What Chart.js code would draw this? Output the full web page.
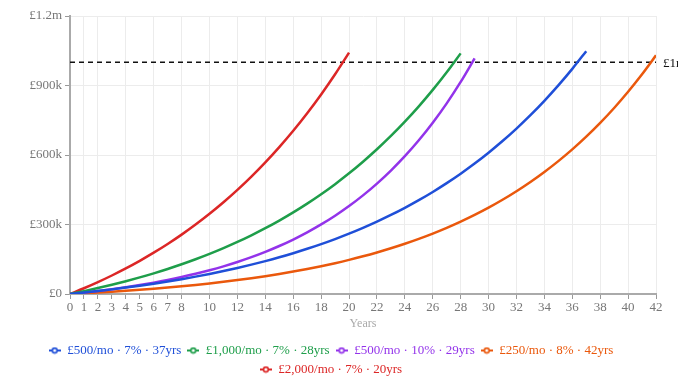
<!DOCTYPE html>
<html>
<head>
<meta charset="utf-8">
<script src="https://cdn.jsdelivr.net/npm/chart.js@4.4.1/dist/chart.umd.min.js"></script>
<style>
  html, body { margin: 0; padding: 0; background: #fff; }
  #wrap { width: 678px; height: 388px; overflow: hidden; }
</style>
</head>
<body>
<div id="wrap"><canvas id="c" width="678" height="388"></canvas></div>
<script>
const years = [0,1,2,3,4,5,6,7,8,9,10,11,12,13,14,15,16,17,18,19,20,21,22,23,24,25,26,27,28,29,30,31,32,33,34,35,36,37,38,39,40,41,42];
const xTickValues = [0,1,2,3,4,5,6,7,8,10,12,14,16,18,20,22,24,26,28,30,32,34,36,38,40,42];
const yTickLabels = { 0: '£0', 300000: '£300k', 600000: '£600k', 900000: '£900k', 1200000: '£1.2m' };
const targetValue = 1000000;
const targetLabel = '£1m';

const seriesLabels = ['£500/mo · 7% · 37yrs', '£1,000/mo · 7% · 28yrs', '£500/mo · 10% · 29yrs', '£250/mo · 8% · 42yrs', '£2,000/mo · 7% · 20yrs'];
const seriesColors = ['#1f4fd8', '#1e9e4a', '#9333ea', '#ea580c', '#dc2626'];

const blueVals = [0,6196,12841,19965,27604,35797,44581,54000,64101,74931,86542,98995,112347,126665,142018,158481,176134,195063,215360,237125,260463,285489,312323,341097,371951,405036,440512,478553,519345,563084,609986,660278,714206,772032,834039,900528,971823,1048273];
const greenVals = [0,12392,25682,39930,55208,71594,89162,108000,128202,149862,173084,197990,224694,253330,284036,316962,352268,390126,430720,474250,520926,570978,624646,682194,743902,810072,881024,957106,1038690];
const purpleVals = [0,6283,13223,20891,29361,38719,49056,60475,73091,87027,102422,119430,138219,158975,181905,207235,235218,266131,300282,338008,379684,425725,476587,532774,594846,663416,739168,822851,915297,1017423];
const orangeVals = [0,3113,6483,10134,14088,18369,23007,28029,33467,39358,45737,52646,60128,68231,77007,86511,96803,107951,120023,133097,147257,162592,179200,197186,216664,237760,260607,285350,312146,341167,372596,406634,443497,483420,526656,573481,624193,679113,738592,803008,872770,948322,1030145];
const redVals = [0,24784,51364,79860,110416,143188,178324,216000,256404,299724,346168,395980,449388,506660,568072,633924,704536,780252,861440,948500,1041852];

const seriesValues = [blueVals, greenVals, purpleVals, orangeVals, redVals];

const FONT = '"Liberation Serif", "DejaVu Serif", serif';

function makeIcon(color) {
  const cv = document.createElement('canvas');
  cv.width = 12; cv.height = 8;
  const g = cv.getContext('2d');
  g.strokeStyle = color;
  g.lineWidth = 2;
  g.beginPath(); g.moveTo(0, 4); g.lineTo(12, 4); g.stroke();
  g.fillStyle = '#fff';
  g.lineWidth = 1.6;
  g.beginPath(); g.arc(6, 4, 2.4, 0, Math.PI * 2); g.fill(); g.stroke();
  return cv;
}
const icons = seriesColors.map(makeIcon);

const datasets = seriesValues.map((vals, i) => ({
  label: seriesLabels[i],
  data: vals.map((v, j) => ({ x: years[j], y: v })),
  borderColor: seriesColors[i],
  backgroundColor: seriesColors[i],
  borderWidth: 2.5,
  pointRadius: 0,
  cubicInterpolationMode: 'monotone',
  fill: false
}));

const targetPlugin = {
  id: 'target',
  beforeDatasetsDraw(chart) {
    const { ctx, chartArea, scales } = chart;
    const y = scales.y.getPixelForValue(targetValue);
    ctx.save();
    ctx.strokeStyle = '#111';
    ctx.lineWidth = 1.5;
    ctx.setLineDash([5, 4]);
    ctx.beginPath();
    ctx.moveTo(chartArea.left, y);
    ctx.lineTo(chartArea.right, y);
    ctx.stroke();
    ctx.restore();
  },
  afterDraw(chart) {
    const { ctx, chartArea, scales } = chart;
    const y = scales.y.getPixelForValue(targetValue);
    ctx.save();
    ctx.fillStyle = '#111';
    ctx.font = '13px ' + FONT;
    ctx.textBaseline = 'middle';
    ctx.textAlign = 'left';
    ctx.fillText(targetLabel, chartArea.right + 7, y + 1);
    ctx.restore();
  }
};

new Chart(document.getElementById('c'), {
  type: 'line',
  data: { datasets },
  plugins: [targetPlugin],
  options: {
    responsive: false,
    animation: false,
    layout: { padding: { left: 6, right: 22, top: 16, bottom: 2 } },
    plugins: {
      tooltip: { enabled: false },
      legend: {
        position: 'bottom',
        labels: {
          usePointStyle: true,
          pointStyleWidth: 12,
          boxHeight: 8,
          padding: 6,
          font: { family: FONT, size: 13 },
          generateLabels(chart) {
            return chart.data.datasets.map((ds, i) => ({
              text: ds.label,
              fontColor: ds.borderColor,
              pointStyle: icons[i],
              fillStyle: 'transparent',
              strokeStyle: 'transparent',
              lineWidth: 0,
              hidden: false,
              datasetIndex: i
            }));
          }
        }
      }
    },
    scales: {
      x: {
        type: 'linear',
        min: 0, max: 42,
        afterBuildTicks(scale) { scale.ticks = xTickValues.map(v => ({ value: v })); },
        ticks: { color: '#777', font: { family: FONT, size: 13 }, autoSkip: false, maxRotation: 0, padding: 1 },
        grid: {
          color(ctx) { const v = ctx.tick && ctx.tick.value; return (v === 3 || v === 5 || v === 7) ? 'rgba(0,0,0,0)' : '#ececec'; },
          borderDash: [3, 3],
          tickBorderDash: [],
          tickColor: '#999',
          tickLength: 5,
          lineWidth: 1
        },
        border: { color: '#aaa', width: 2, dash: [] },
        title: { display: true, text: 'Years', color: '#aaa', font: { family: FONT, size: 12 }, padding: { top: 0, bottom: 7 } }
      },
      y: {
        min: 0, max: 1200000,
        afterFit(scale) { scale.width = 64; },
        ticks: {
          stepSize: 300000,
          color: '#777',
          font: { family: FONT, size: 13 },
          padding: 3,
          callback: (v) => yTickLabels[v] !== undefined ? yTickLabels[v] : ''
        },
        grid: {
          color: '#ececec',
          borderDash: [3, 3],
          tickBorderDash: [],
          tickColor: '#999',
          tickLength: 5,
          lineWidth: 1
        },
        border: { color: '#aaa', width: 2, dash: [] }
      }
    }
  }
});
</script>
</body>
</html>
